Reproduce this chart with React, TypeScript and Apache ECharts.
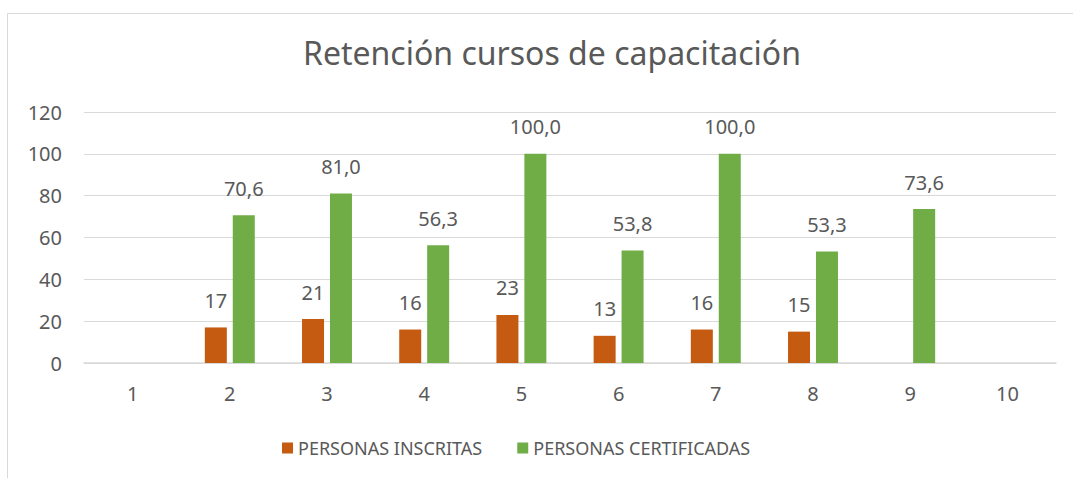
import React, { useEffect, useRef } from "react";
import * as echarts from "echarts";

const categories = ["1", "2", "3", "4", "5", "6", "7", "8", "9", "10"];
const inscritas = [null, 17, 21, 16, 23, 13, 16, 15, null, null];
const certificadas = [null, 70.6, 81.0, 56.3, 100.0, 53.8, 100.0, 53.3, 73.6, null];
const yTicks = { min: 0, max: 120, interval: 20 };
const titleText = "Retención cursos de capacitación";
const seriesNames = ["PERSONAS INSCRITAS", "PERSONAS CERTIFICADAS"];

const FONT = "Noto Sans";
const TXT = "#595959";

export default function App() {
  const ref = useRef<HTMLDivElement>(null);
  useEffect(() => {
    document.body.style.margin = "0";
    const chart = echarts.init(ref.current!, null, { renderer: "svg" });
    chart.setOption({
      animation: false,
      backgroundColor: "#ffffff",
      textStyle: { fontFamily: FONT },
      title: {
        text: titleText,
        left: 547,
        textAlign: "center",
        top: 31,
        textStyle: { fontFamily: FONT, fontSize: 32, fontWeight: "normal", color: TXT },
      },
      graphic: [
        {
          type: "rect",
          shape: { x: 7.5, y: 13.5, width: 1200, height: 600 },
          style: { fill: "none", stroke: "#d9d9d9", lineWidth: 1 },
          silent: true,
        },
      ],
      legend: {
        left: 277,
        top: 434,
        itemWidth: 11,
        itemHeight: 11,
        itemGap: 35,
        icon: "rect",
        textStyle: { fontFamily: FONT, fontSize: 18, color: TXT },
        data: seriesNames,
      },
      grid: { left: 84, right: 17, top: 112, bottom: 115, containLabel: false },
      xAxis: {
        type: "category",
        data: categories,
        axisLine: { lineStyle: { color: "#d9d9d9", width: 1.5 } },
        axisTick: { show: false },
        axisLabel: { fontFamily: FONT, fontSize: 20, color: TXT, margin: 20 },
      },
      yAxis: {
        type: "value",
        min: yTicks.min,
        max: yTicks.max,
        interval: yTicks.interval,
        axisLine: { show: false },
        axisTick: { show: false },
        axisLabel: { fontFamily: FONT, fontSize: 20, color: TXT, margin: 22 },
        splitLine: { lineStyle: { color: "#d9d9d9", width: 1 } },
      },
      series: [
        {
          name: seriesNames[0],
          type: "bar",
          data: inscritas,
          barWidth: 22,
          barGap: "27%",
          itemStyle: { color: "#C55A11" },
          label: {
            show: true,
            position: "top",
            distance: 17,
            fontFamily: FONT,
            fontSize: 20,
            color: TXT,
            formatter: (p: any) => String(Math.round(p.value)),
          },
        },
        {
          name: seriesNames[1],
          type: "bar",
          data: certificadas,
          barWidth: 22,
          itemStyle: { color: "#70AD47" },
          label: {
            show: true,
            position: "top",
            distance: 17,
            fontFamily: FONT,
            fontSize: 20,
            color: TXT,
            formatter: (p: any) => Number(p.value).toFixed(1).replace(".", ","),
          },
        },
      ],
    });
    return () => chart.dispose();
  }, []);
  return <div ref={ref} style={{ width: 1073, height: 478 }} />;
}
